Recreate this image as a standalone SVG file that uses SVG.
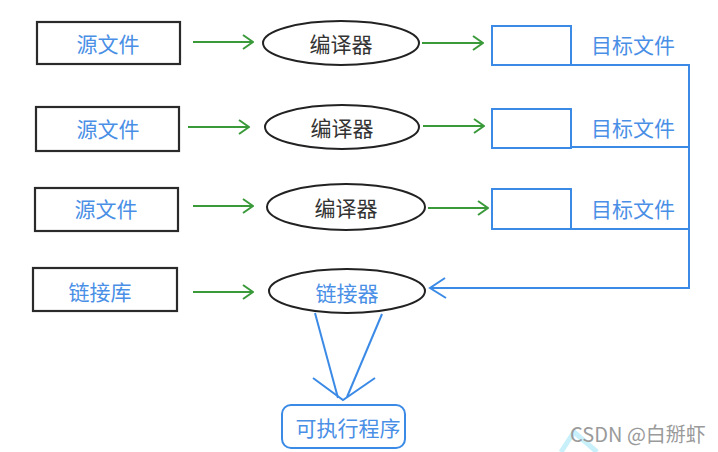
<svg xmlns="http://www.w3.org/2000/svg" width="718" height="452" viewBox="0 0 718 452">
<style>
.src{fill:#fff;stroke:#2a2a2a;stroke-width:2.2}
.ell{fill:#fff;stroke:#222;stroke-width:2}
.obj{fill:#fff;stroke:#3a8ae6;stroke-width:2}
.t{font-family:"Noto Sans CJK SC","Noto Sans",sans-serif;font-size:21px;text-anchor:middle;dominant-baseline:central}
.blue{fill:#4a8fe6}
.dark{fill:#333}
.g{stroke:#3a9a3a;stroke-width:2;fill:none}
.b{stroke:#3a8ae6;stroke-width:2;fill:none}
</style>
<defs>
<marker id="ga" viewBox="0 0 12 16" markerWidth="12" markerHeight="16" refX="11" refY="8" orient="auto" markerUnits="userSpaceOnUse">
<path d="M1,1 L11,8 L1,15" fill="none" stroke="#3a9a3a" stroke-width="2"/>
</marker>
</defs>
<rect width="718" height="452" fill="#fff"/>
<g id="connectors">
<line class="g" x1="193" y1="42" x2="253" y2="42" marker-end="url(#ga)"/>
<line class="g" x1="188" y1="127" x2="249" y2="127" marker-end="url(#ga)"/>
<line class="g" x1="193" y1="206" x2="253" y2="206" marker-end="url(#ga)"/>
<line class="g" x1="193" y1="292" x2="253" y2="292" marker-end="url(#ga)"/>
<line class="g" x1="422" y1="43" x2="483" y2="43" marker-end="url(#ga)"/>
<line class="g" x1="423" y1="126" x2="484" y2="126" marker-end="url(#ga)"/>
<line class="g" x1="428" y1="208" x2="488" y2="208" marker-end="url(#ga)"/>
<polyline class="b" points="571,65 689,65 689,288 430,288"/>
<line class="b" x1="571" y1="147" x2="689" y2="147"/>
<line class="b" x1="571" y1="229" x2="689" y2="229"/>
<polyline class="b" points="445,278 430,288 446,298"/>
<line class="b" x1="315" y1="313" x2="338" y2="398"/>
<line class="b" x1="382" y1="314" x2="347" y2="397"/>
<polyline class="b" points="313,378 343,400 375,378"/>
</g>
<g id="src1"><rect class="src" x="37" y="22" width="143" height="42"/><text class="t blue" x="108" y="43">源文件</text></g>
<g id="src2"><rect class="src" x="36" y="107" width="143" height="44"/><text class="t blue" x="108" y="128">源文件</text></g>
<g id="src3"><rect class="src" x="35" y="188" width="143" height="43"/><text class="t blue" x="106" y="208">源文件</text></g>
<g id="lib"><rect class="src" x="33" y="268" width="144" height="43"/><text class="t blue" x="100" y="291">链接库</text></g>
<g id="cc1"><ellipse class="ell" cx="341" cy="43" rx="78" ry="22"/><text class="t dark" x="341" y="43">编译器</text></g>
<g id="cc2"><ellipse class="ell" cx="342" cy="127" rx="77" ry="22"/><text class="t dark" x="342" y="127">编译器</text></g>
<g id="cc3"><ellipse class="ell" cx="346" cy="207" rx="79" ry="23"/><text class="t dark" x="346" y="207">编译器</text></g>
<g id="linker"><ellipse class="ell" cx="347" cy="291" rx="78" ry="22"/><text class="t blue" x="347" y="292">链接器</text></g>
<g id="obj1"><rect class="obj" x="492" y="26" width="79" height="39"/><text class="t blue" x="633" y="44">目标文件</text></g>
<g id="obj2"><rect class="obj" x="492" y="109" width="79" height="39"/><text class="t blue" x="633" y="127">目标文件</text></g>
<g id="obj3"><rect class="obj" x="492" y="189" width="79" height="40"/><text class="t blue" x="633" y="208">目标文件</text></g>
<g id="exe"><rect class="obj" x="282" y="405" width="123" height="43" rx="9"/><text class="t blue" x="348" y="427">可执行程序</text></g>
<g id="watermark">
<polyline points="561,452 574,432 597,452" fill="none" stroke="#c8f0fb" stroke-width="5"/>
<text x="638" y="433" font-family="'Noto Sans CJK SC','Noto Sans',sans-serif" font-size="20" fill="#9a9a9a" text-anchor="middle" dominant-baseline="central">CSDN @白掰虾</text>
</g>
</svg>
